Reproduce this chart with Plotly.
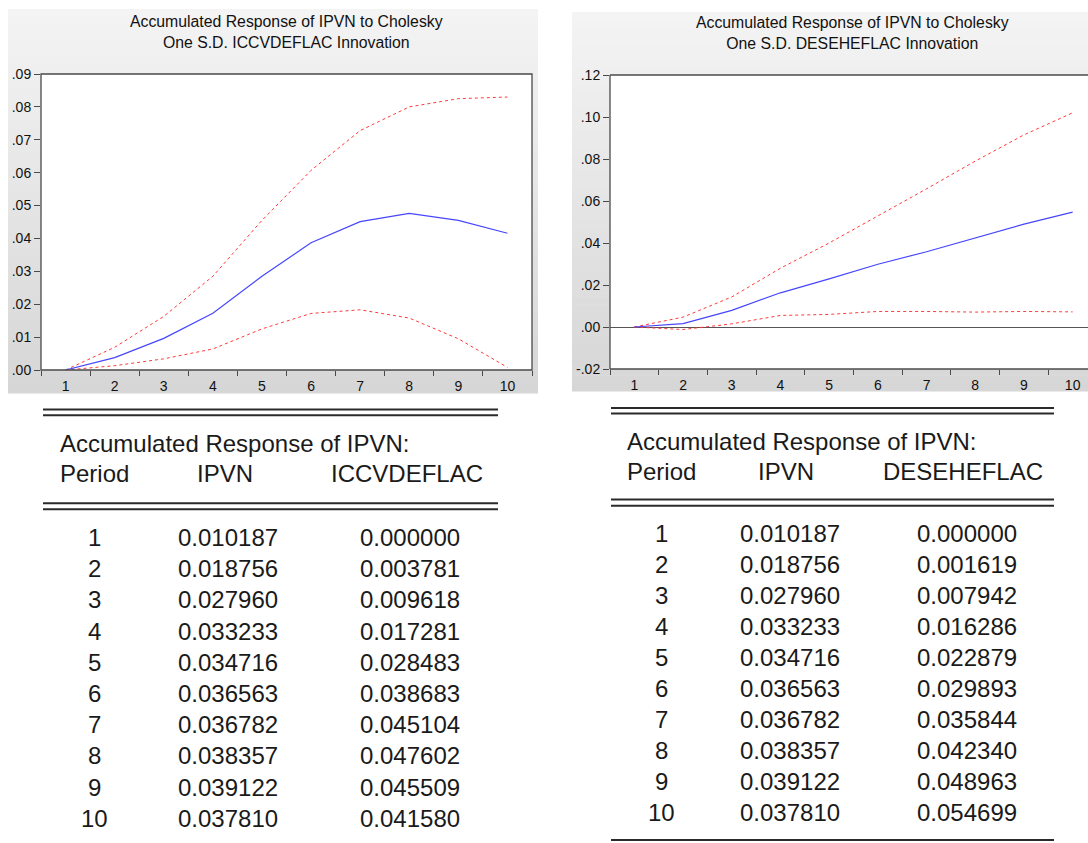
import plotly.graph_objects as go

# ---------------- data ----------------
periods = list(range(1, 11))
period_labels = [str(p) for p in periods]

# Left panel: accumulated response of IPVN to ICCVDEFLAC (with +/- 2 S.E. bands)
iccv_resp = [0.000000, 0.003781, 0.009618, 0.017281, 0.028483,
             0.038683, 0.045104, 0.047602, 0.045509, 0.041580]
iccv_upper = [0.0, 0.0069, 0.0163, 0.0285, 0.0455, 0.0607, 0.0728, 0.0800, 0.0825, 0.0830]
iccv_lower = [0.0, 0.0013, 0.0034, 0.0064, 0.0125, 0.0172, 0.0183, 0.0158, 0.0095, 0.0008]

# Right panel: accumulated response of IPVN to DESEHEFLAC
dese_resp = [0.000000, 0.001619, 0.007942, 0.016286, 0.022879,
             0.029893, 0.035844, 0.042340, 0.048963, 0.054699]
dese_upper = [0.0, 0.0047, 0.0143, 0.0280, 0.0400, 0.0528, 0.0658, 0.0790, 0.0915, 0.1020]
dese_lower = [0.0, -0.0012, 0.0015, 0.0055, 0.0060, 0.0074, 0.0074, 0.0071, 0.0074, 0.0072]

# Own response column shared by both tables
ipvn_resp = [0.010187, 0.018756, 0.027960, 0.033233, 0.034716,
             0.036563, 0.036782, 0.038357, 0.039122, 0.037810]

left_yticks = [0.00, 0.01, 0.02, 0.03, 0.04, 0.05, 0.06, 0.07, 0.08, 0.09]
left_ytext = [".00", ".01", ".02", ".03", ".04", ".05", ".06", ".07", ".08", ".09"]
right_yticks = [-0.02, 0.00, 0.02, 0.04, 0.06, 0.08, 0.10, 0.12]
right_ytext = ["-.02", ".00", ".02", ".04", ".06", ".08", ".10", ".12"]

left_title = "Accumulated Response of IPVN to Cholesky<br>One S.D. ICCVDEFLAC Innovation"
right_title = "Accumulated Response of IPVN to Cholesky<br>One S.D. DESEHEFLAC Innovation"
table_header = "Accumulated Response of IPVN:"
left_cols = ["Period", "IPVN", "ICCVDEFLAC"]
right_cols = ["Period", "IPVN", "DESEHEFLAC"]

# ---------------- geometry helpers ----------------
W, H = 1088, 843
FONT = "Liberation Sans, Arial, sans-serif"


def px(x):
    return x / W


def py(y):
    return 1 - y / H


fig = go.Figure()
BLUE = "#4646ff"
RED = "#ff3a3a"

for xa, ya, up, lo, resp in [("x", "y", iccv_upper, iccv_lower, iccv_resp),
                             ("x2", "y2", dese_upper, dese_lower, dese_resp)]:
    fig.add_trace(go.Scatter(x=periods, y=up, mode="lines", line=dict(color=RED, width=1, dash="dot"),
                             xaxis=xa, yaxis=ya, showlegend=False, hoverinfo="skip"))
    fig.add_trace(go.Scatter(x=periods, y=lo, mode="lines", line=dict(color=RED, width=1, dash="dot"),
                             xaxis=xa, yaxis=ya, showlegend=False, hoverinfo="skip"))
    fig.add_trace(go.Scatter(x=periods, y=resp, mode="lines", line=dict(color=BLUE, width=1.2),
                             xaxis=xa, yaxis=ya, showlegend=False))

shapes = []


def gradient_panel(x0, y0, x1, y1, n=48, top=244, bottom=214):
    h = (y1 - y0) / n
    for i in range(n):
        t = (i + 0.5) / n
        c = int(round(top + (bottom - top) * t))
        shapes.append(dict(type="rect", xref="paper", yref="paper",
                           x0=px(x0), x1=px(x1), y0=py(y0 + (i + 1) * h + 0.5), y1=py(y0 + i * h),
                           fillcolor=f"rgb({c},{c},{c})", line=dict(width=0), layer="below"))


gradient_panel(8, 9, 538, 393)
gradient_panel(572, 12, 1088, 391)

# white plotting areas
for (x0, y0, x1, y1) in [(41, 74, 532, 370), (610, 75, 1088, 369)]:
    shapes.append(dict(type="rect", xref="paper", yref="paper", x0=px(x0), x1=px(x1), y0=py(y1), y1=py(y0),
                       fillcolor="white", line=dict(width=0), layer="below"))
# frames
shapes.append(dict(type="rect", xref="paper", yref="paper", x0=px(41), x1=px(532), y0=py(370), y1=py(74),
                   fillcolor="rgba(0,0,0,0)", line=dict(color="#4a4a4a", width=1.3), layer="above"))
for (xa, ya, xb, yb) in [(610, 75, 1088, 75), (610, 75, 610, 369), (610, 369, 1088, 369)]:
    shapes.append(dict(type="line", xref="paper", yref="paper", x0=px(xa), x1=px(xb), y0=py(ya), y1=py(yb),
                       line=dict(color="#4a4a4a", width=1.3), layer="above"))

# table rules
LINEC = "#2a2a2a"


def hline(x0, x1, y, w=2):
    shapes.append(dict(type="line", xref="paper", yref="paper", x0=px(x0), x1=px(x1), y0=py(y), y1=py(y),
                       line=dict(color=LINEC, width=w)))


for y in (409.5, 415.3, 503.3, 509.3):
    hline(43, 498, y)
for y in (408, 413.6, 499.5, 505.8, 840):
    hline(611, 1054, y)

annotations = []
annotations.append(dict(text=left_title, x=px(286.5), y=py(31.5), xref="paper", yref="paper",
                        showarrow=False, xanchor="center", yanchor="middle",
                        font=dict(family=FONT, size=15.8, color="#111")))
annotations.append(dict(text=right_title, x=px(852.5), y=py(33), xref="paper", yref="paper",
                        showarrow=False, xanchor="center", yanchor="middle",
                        font=dict(family=FONT, size=15.8, color="#111")))

TF = dict(family=FONT, size=24, color="#1a1a1a")


def table(left_x, head1_y, head2_y, cols, col_centers, row0_y, row_dy, third):
    annotations.append(dict(text=table_header, x=px(left_x), y=py(head1_y), xref="paper", yref="paper",
                            showarrow=False, xanchor="left", yanchor="middle", font=TF))
    annotations.append(dict(text=cols[0], x=px(left_x), y=py(head2_y), xref="paper", yref="paper",
                            showarrow=False, xanchor="left", yanchor="middle", font=TF))
    for name, cx in zip(cols[1:], col_centers[3:]):
        annotations.append(dict(text=name, x=px(cx), y=py(head2_y), xref="paper", yref="paper",
                                showarrow=False, xanchor="center", yanchor="middle", font=TF))
    for i, p in enumerate(periods):
        yy = row0_y + i * row_dy
        vals = [str(p), f"{ipvn_resp[i]:.6f}", f"{third[i]:.6f}"]
        for v, cx in zip(vals, col_centers[:3]):
            annotations.append(dict(text=v, x=px(cx), y=py(yy), xref="paper", yref="paper",
                                    showarrow=False, xanchor="center", yanchor="middle", font=TF))


table(58, 443, 473.5, left_cols, [94.5, 228, 410, 224.5, 407], 537.5, 31.2, iccv_resp)
table(625, 441, 471, right_cols, [661, 790, 967, 786, 963], 533.5, 30.95, dese_resp)

AX = "#4a4a4a"
tickfont = dict(family=FONT, size=14, color="#111")


def xaxis_cfg(domain, rng):
    return dict(domain=domain, range=rng, tickvals=periods, ticktext=period_labels,
                ticks="outside", ticklen=3, tickcolor="rgba(0,0,0,0)",
                minor=dict(tickmode="linear", tick0=0.5, dtick=1, ticks="outside", ticklen=5,
                           tickcolor=AX, tickwidth=1, showgrid=False),
                showgrid=False, zeroline=False, showline=False, tickfont=tickfont,
                automargin=False, fixedrange=True)


def yaxis_cfg(domain, rng, tv, tt, zero):
    return dict(domain=domain, range=rng, tickvals=tv, ticktext=tt, ticks="outside", ticklen=6,
                tickcolor=AX, tickwidth=1, showgrid=False, zeroline=zero, zerolinecolor="#555555",
                zerolinewidth=1, showline=False, tickfont=tickfont, automargin=False, fixedrange=True)


fig.update_layout(
    width=W, height=H, margin=dict(l=0, r=0, t=0, b=0, pad=0, autoexpand=False),
    paper_bgcolor="white", plot_bgcolor="rgba(0,0,0,0)",
    xaxis=xaxis_cfg([px(41), px(532)], [0.5, 10.5]),
    yaxis=yaxis_cfg([py(370), py(74)], [0.0, 0.09], left_yticks, left_ytext, False),
    xaxis2=xaxis_cfg([px(610), 1.0], [0.5, 0.5 + (W - 610) / 48.7]),
    yaxis2=yaxis_cfg([py(369), py(75)], [-0.02, 0.12], right_yticks, right_ytext, True),
    shapes=shapes, annotations=annotations, showlegend=False,
)
fig.update_layout(yaxis2=dict(anchor="x2"), xaxis2=dict(anchor="y2"))

fig.write_html("out.html", config={"displayModeBar": False},
               post_script="document.body.style.margin='0';document.body.style.overflow='hidden';")
